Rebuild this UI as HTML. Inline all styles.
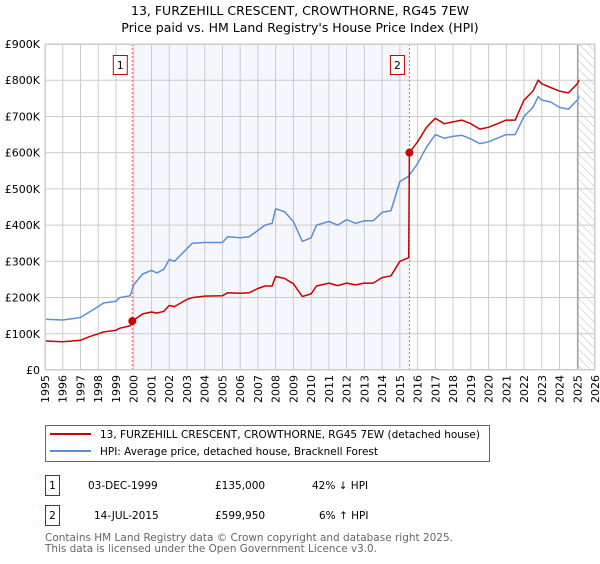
<!DOCTYPE html>
<html><head><meta charset="utf-8"><style>
body{margin:0;background:#fff;width:600px;height:560px;overflow:hidden;font-family:"DejaVu Sans","Liberation Sans",sans-serif;}
svg text{font-family:"DejaVu Sans","Liberation Sans",sans-serif;}
</style></head><body>
<svg id="chart" width="600" height="560" xmlns="http://www.w3.org/2000/svg">
<defs><pattern id="hatch" width="6" height="6" patternUnits="userSpaceOnUse" patternTransform="rotate(-45)"><line x1="0" y1="0" x2="0" y2="6" stroke="#bbb" stroke-width="1"/></pattern></defs>
<text x="300" y="15" text-anchor="middle" font-size="12.5">13, FURZEHILL CRESCENT, CROWTHORNE, RG45 7EW</text>
<text x="300" y="32" text-anchor="middle" font-size="12.5">Price paid vs. HM Land Registry's House Price Index (HPI)</text>
<g id="plot"></g>
<g>
<rect x="45.5" y="425.5" width="444" height="36" fill="#fff" stroke="#666"/>
<line x1="50" y1="434" x2="91" y2="434" stroke="#cc0000" stroke-width="2"/>
<text x="100" y="438" font-size="10.5" textLength="380" lengthAdjust="spacingAndGlyphs">13, FURZEHILL CRESCENT, CROWTHORNE, RG45 7EW (detached house)</text>
<line x1="50" y1="451" x2="91" y2="451" stroke="#5b8ed6" stroke-width="2"/>
<text x="100" y="455" font-size="10.5" textLength="278" lengthAdjust="spacingAndGlyphs">HPI: Average price, detached house, Bracknell Forest</text>
</g>
<g font-size="10.5">
<rect x="45.5" y="475.5" width="14" height="20" fill="#fff" stroke="#cc0000"/>
<text x="52.5" y="489" text-anchor="middle">1</text>
<text x="88" y="489">03-DEC-1999</text><text x="215" y="489">£135,000</text><text x="312" y="489">42% ↓ HPI</text>
<rect x="45.5" y="505.5" width="14" height="20" fill="#fff" stroke="#cc0000"/>
<text x="52.5" y="519" text-anchor="middle">2</text>
<text x="94" y="519">14-JUL-2015</text><text x="215" y="519">£599,950</text><text x="319" y="519">6% ↑ HPI</text>
</g>
<text x="45" y="541" font-size="10.5" fill="#666" textLength="408" lengthAdjust="spacingAndGlyphs">Contains HM Land Registry data © Crown copyright and database right 2025.</text>
<text x="45" y="552" font-size="10.5" fill="#666" textLength="332" lengthAdjust="spacingAndGlyphs">This data is licensed under the Open Government Licence v3.0.</text>
</svg>
<script>
const hpiYears=[1995,1996,1997,1997.5,1998,1998.3,1999,1999.2,1999.8,2000,2000.5,2001,2001.3,2001.7,2002,2002.3,2003,2003.3,2004,2005,2005.3,2006,2006.5,2007,2007.4,2007.8,2008,2008.5,2009,2009.5,2010,2010.3,2011,2011.5,2012,2012.5,2013,2013.5,2014,2014.5,2015,2015.5,2016,2016.5,2017,2017.5,2018,2018.5,2019,2019.5,2020,2020.5,2021,2021.5,2022,2022.5,2022.8,2023,2023.5,2024,2024.5,2025,2025.1];
const hpiValues=[140,138,145,160,175,185,190,200,205,235,265,275,268,278,305,300,335,350,352,352,368,365,368,385,400,405,445,437,410,355,365,400,410,400,415,405,412,412,435,440,520,535,570,615,650,640,645,648,638,625,630,640,650,650,700,725,755,745,740,725,720,745,755];
const priceYears=[1995,1996,1997,1997.5,1998,1998.3,1999,1999.2,1999.8,1999.92,2000.5,2001,2001.3,2001.7,2002,2002.3,2003,2003.3,2004,2005,2005.3,2006,2006.5,2007,2007.4,2007.8,2008,2008.5,2009,2009.5,2010,2010.3,2011,2011.5,2012,2012.5,2013,2013.5,2014,2014.5,2015,2015.5,2015.54,2016,2016.5,2017,2017.5,2018,2018.5,2019,2019.5,2020,2020.5,2021,2021.5,2022,2022.5,2022.8,2023,2023.5,2024,2024.5,2025,2025.1];
const priceValues=[80,78,82,92,100,105,110,115,122,135,155,160,157,162,178,175,195,200,204,205,213,212,213,225,232,232,258,253,238,203,210,232,240,233,240,235,240,240,255,260,300,310,600,630,670,695,680,685,690,680,665,670,680,690,690,745,770,800,790,780,770,765,790,800];
const saleYears=[1999.92,2015.54];
const saleValues=[135,599.95];
const saleLabels=["1","2"];
const yTicks=[0,100,200,300,400,500,600,700,800,900];
const yTickLabels=["£0","£100K","£200K","£300K","£400K","£500K","£600K","£700K","£800K","£900K"];
const xTicks=[1995,1996,1997,1998,1999,2000,2001,2002,2003,2004,2005,2006,2007,2008,2009,2010,2011,2012,2013,2014,2015,2016,2017,2018,2019,2020,2021,2022,2023,2024,2025,2026];

const X0=45,X1=595,Y0=370,Y1=44;
const xs=y=>X0+(y-1995)/31*(X1-X0);
const ys=v=>Y0-v/900*(Y0-Y1);
const NS="http://www.w3.org/2000/svg";
const g=document.getElementById('plot');
function mk(t,a){const e=document.createElementNS(NS,t);for(const k in a)e.setAttribute(k,a[k]);g.appendChild(e);return e;}
let e;
e=mk('rect',{x:xs(saleYears[0]),y:Y1,width:xs(saleYears[1])-xs(saleYears[0]),height:Y0-Y1,fill:'#eef2fc',opacity:0.6});


e=mk('rect',{x:xs(2025.04),y:Y1,width:X1-xs(2025.04),height:Y0-Y1,fill:'url(#hatch)'});


xTicks.forEach(t=>{e=mk('line',{x1:xs(t),x2:xs(t),y1:Y1,y2:Y0,stroke:'#ccc'});


e=mk('text',{x:0,y:0,'font-size':11,'text-anchor':'end',transform:`translate(${xs(t)+4},${Y0+5}) rotate(-90)`});e.textContent=t;

});
yTicks.forEach((t,i)=>{e=mk('line',{x1:X0,x2:X1,y1:ys(t),y2:ys(t),stroke:'#ccc'});


e=mk('text',{x:40,y:ys(t)+4,'font-size':11,'text-anchor':'end'});e.textContent=yTickLabels[i];

});
e=mk('line',{x1:xs(2025.04),x2:xs(2025.04),y1:Y1,y2:Y0,stroke:'#888'});


saleYears.forEach((s,i)=>{e=mk('line',{x1:xs(s),x2:xs(s),y1:Y1,y2:Y0,stroke:'#f06060','stroke-dasharray':'2,2'});

});
function path(xa,va,col,name){e=mk('polyline',{points:xa.map((x,i)=>xs(x).toFixed(1)+','+ys(va[i]).toFixed(1)).join(' '),fill:'none',stroke:col,'stroke-width':1.5,'stroke-linejoin':'round'});

}
path(hpiYears,hpiValues,'#5b8ed6','hpi-line');
path(priceYears,priceValues,'#cc0000','price-paid-line');
saleYears.forEach((s,i)=>{e=mk('circle',{cx:xs(s),cy:ys(saleValues[i]),r:4,fill:'#cc0000'});


e=mk('rect',{x:xs(s)-19,y:55.5,width:14,height:19,fill:'#fff',stroke:'#cc0000'});


e=mk('text',{x:xs(s)-12,y:69,'font-size':11,'text-anchor':'middle'});e.textContent=saleLabels[i];

});
e=mk('rect',{x:X0+0.5,y:Y1+0.5,width:X1-X0-1,height:Y0-Y1-1,fill:'none',stroke:'#ccc'});


</script>
</body></html>
